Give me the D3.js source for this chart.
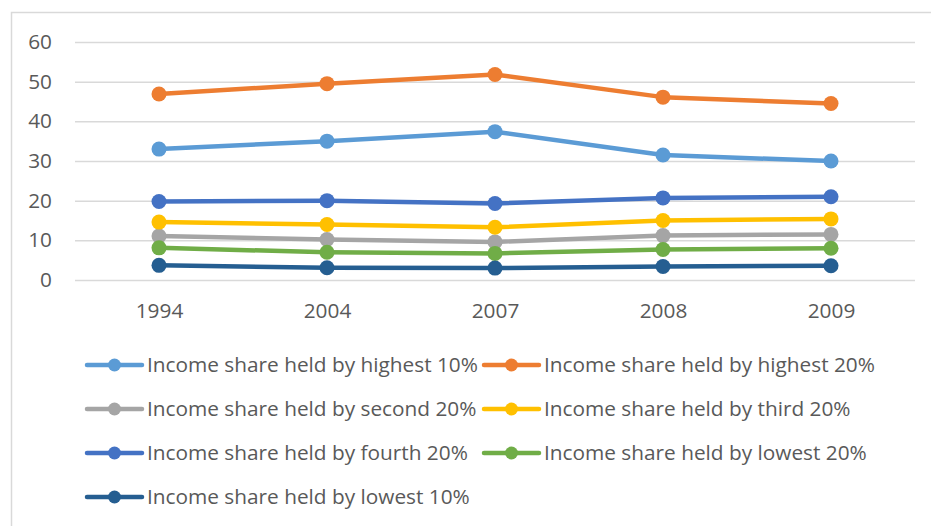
<!DOCTYPE html>
<html><head><meta charset="utf-8">
<script src="https://cdn.jsdelivr.net/npm/d3@7"></script>
<style>html,body{margin:0;padding:0;background:#fff;}svg{display:block;}</style>
</head><body>
<svg id="chart" width="931" height="526"></svg>
<script>
const years = ["1994", "2004", "2007", "2008", "2009"];
const seriesNames = [
  "Income share held by highest 10%",
  "Income share held by highest 20%",
  "Income share held by second 20%",
  "Income share held by third 20%",
  "Income share held by fourth 20%",
  "Income share held by lowest 20%",
  "Income share held by lowest 10%"
];
const highest10 = [33.0, 35.0, 37.4, 31.5, 30.0];
const highest20 = [46.9, 49.5, 51.8, 46.1, 44.5];
const second20  = [11.1, 10.2, 9.6, 11.2, 11.5];
const third20   = [14.6, 14.0, 13.3, 15.0, 15.4];
const fourth20  = [19.8, 20.0, 19.3, 20.7, 21.0];
const lowest20  = [8.1, 7.0, 6.7, 7.7, 8.0];
const lowest10  = [3.7, 3.1, 3.0, 3.4, 3.6];
const yTicks = [0, 10, 20, 30, 40, 50, 60];
const colors = ["#5B9BD5", "#ED7D31", "#A5A5A5", "#FFC000", "#4472C4", "#70AD47", "#255E91"];
const seriesValues = [highest10, highest20, second20, third20, fourth20, lowest20, lowest10];

const svg = d3.select("#chart");
const font = "'Open Sans', 'Liberation Sans', sans-serif";
const textColor = "#595959";
const fs = 20.8;

// chart border
svg.append("rect").attr("x", 11.5).attr("y", 12.5).attr("width", 940).attr("height", 540)
  .attr("fill", "#fff").attr("stroke", "#d9d9d9").attr("stroke-width", 1.5);

const x = d3.scalePoint().domain(years).range([75, 915]).padding(0.5);
const y = d3.scaleLinear().domain([0, 60]).range([280, 42]);

// gridlines
const grid = d3.axisLeft(y).tickValues(yTicks).tickSize(-(915 - 75)).tickFormat("");
svg.append("g").attr("transform", "translate(75,0)").call(grid)
  .call(g => g.select(".domain").remove())
  .call(g => g.selectAll("line").attr("stroke", "#d9d9d9").attr("stroke-width", 1.5));

// y labels
const yAxis = d3.axisLeft(y).tickValues(yTicks).tickSize(0).tickPadding(23);
svg.append("g").attr("transform", "translate(75,0)").call(yAxis)
  .call(g => g.select(".domain").remove())
  .call(g => g.selectAll("text").attr("font-family", font).attr("font-size", fs).attr("fill", textColor));

// x labels
const xAxis = d3.axisBottom(x).tickSize(0).tickPadding(23);
svg.append("g").attr("transform", "translate(0,280)").call(xAxis)
  .call(g => g.select(".domain").remove())
  .call(g => g.selectAll("text").attr("font-family", font).attr("font-size", fs).attr("fill", textColor));

const line = d3.line().x((d, i) => x(years[i])).y(d => y(d));

seriesValues.forEach((vals, si) => {
  const g = svg.append("g");
  g.append("path").attr("d", line(vals)).attr("fill", "none")
    .attr("stroke", colors[si]).attr("stroke-width", 4.5).attr("stroke-linejoin", "round").attr("stroke-linecap", "round");
  g.selectAll("circle").data(vals).join("circle")
    .attr("cx", (d, i) => x(years[i])).attr("cy", d => y(d)).attr("r", 7.5)
    .attr("fill", colors[si]);
});

// legend
const legX = [87, 484];
const legY0 = 365, legDy = 44;
seriesNames.forEach((name, i) => {
  const col = i % 2, row = Math.floor(i / 2);
  const lx = legX[col], ly = legY0 + row * legDy;
  const g = svg.append("g");
  g.append("line").attr("x1", lx).attr("x2", lx + 55).attr("y1", ly).attr("y2", ly)
    .attr("stroke", colors[i]).attr("stroke-width", 4.5).attr("stroke-linecap", "round");
  g.append("circle").attr("cx", lx + 27.5).attr("cy", ly).attr("r", 6.5).attr("fill", colors[i]);
  g.append("text").attr("x", lx + 60).attr("y", ly).attr("dy", "0.36em")
    .attr("font-family", font).attr("font-size", fs).attr("fill", textColor).text(name);
});
</script>
</body></html>
